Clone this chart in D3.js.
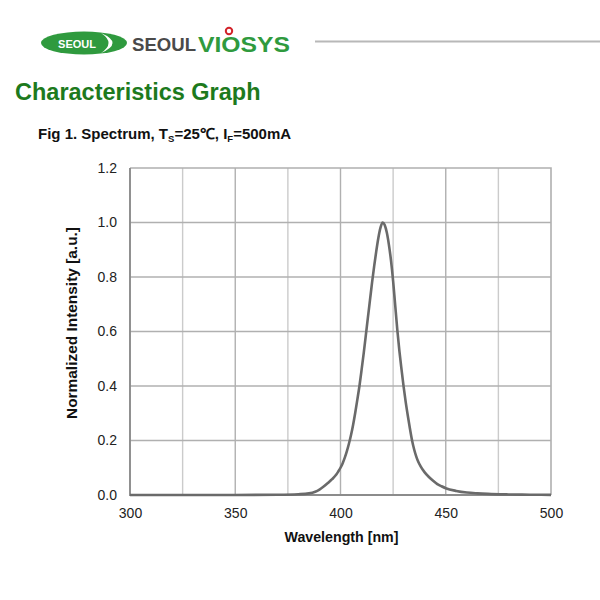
<!DOCTYPE html>
<html>
<head>
<meta charset="utf-8">
<script src="https://cdn.jsdelivr.net/npm/d3@7"></script>
<style>
  body { margin:0; background:#fff; }
  svg { font-family: "Liberation Sans", Arial, sans-serif; }
</style>
</head>
<body>
<div id="chart"></div>
<script>
// spectrum (wavelength nm / normalized intensity)
const wavelength = [300, 350, 370, 380, 385, 388, 390, 392, 394, 396, 398, 399, 400, 401, 402, 403, 404, 405, 406, 407, 408, 409, 410, 411, 412, 413, 414, 415, 416, 417, 418, 419, 420, 421, 422, 423, 424, 425, 426, 427, 428, 429, 430, 431, 432, 433, 434, 435, 436, 437, 438, 440, 442, 444, 446, 448, 450, 455, 460, 465, 470, 480, 490, 500];
const intensity  = [0.0, 0.0, 0.001, 0.003, 0.006, 0.012, 0.02, 0.031, 0.044, 0.058, 0.075, 0.087, 0.10, 0.116, 0.136, 0.16, 0.188, 0.22, 0.258, 0.302, 0.35, 0.40, 0.458, 0.519, 0.584, 0.65, 0.715, 0.78, 0.84, 0.895, 0.944, 0.981, 1.0, 0.991, 0.963, 0.918, 0.86, 0.785, 0.695, 0.605, 0.527, 0.46, 0.397, 0.34, 0.29, 0.243, 0.2, 0.167, 0.141, 0.121, 0.106, 0.083, 0.066, 0.052, 0.04, 0.032, 0.025, 0.015, 0.009, 0.006, 0.004, 0.002, 0.001, 0.0005];
const xTicks = [300, 350, 400, 450, 500];
const xGrid  = [325, 350, 375, 400, 425, 450, 475];
const yTicks = [0, 0.2, 0.4, 0.6, 0.8, 1.0, 1.2];

const W = 600, H = 600;
const svg = d3.select("#chart").append("svg")
  .attr("width", W).attr("height", H)
  .attr("viewBox", "0 0 " + W + " " + H);

// ---- header: logo + rule
const logo = svg.append("g");
logo.append("ellipse").attr("cx", 84).attr("cy", 43).attr("rx", 43).attr("ry", 11.5).attr("fill", "#2f9a3e");
logo.append("path")
  .attr("d", "M 101 33 Q 124 43 101 53 Q 116 43 101 33 Z")
  .attr("fill", "#fff");
logo.append("text").attr("x", 77).attr("y", 47.5).attr("text-anchor", "middle")
  .attr("fill", "#fff").attr("font-size", 11).attr("font-weight", "bold")
  .text("SEOUL");
logo.append("text").attr("x", 132).attr("y", 51)
  .attr("font-size", 19).attr("font-weight", "bold").attr("fill", "#4a4a4a")
  .attr("textLength", 64).attr("lengthAdjust", "spacingAndGlyphs")
  .text("SEOUL");
logo.append("text").attr("x", 198).attr("y", 52)
  .attr("font-size", 22).attr("font-weight", "bold").attr("fill", "#2f9a3e")
  .attr("textLength", 92).attr("lengthAdjust", "spacingAndGlyphs")
  .text("VIOSYS");
logo.append("circle").attr("cx", 229).attr("cy", 31).attr("r", 3.2)
  .attr("fill", "#fff").attr("stroke", "#d2232a").attr("stroke-width", 2);
svg.append("line").attr("x1", 315).attr("x2", 600).attr("y1", 41.5).attr("y2", 41.5)
  .attr("stroke", "#b8b8b8").attr("stroke-width", 2);

svg.append("text").attr("x", 15).attr("y", 100)
  .attr("font-size", 23.5).attr("font-weight", "bold").attr("fill", "#1d7a1d")
  .text("Characteristics Graph");

const fig = svg.append("text").attr("x", 38).attr("y", 139)
  .attr("font-size", 15).attr("font-weight", "bold").attr("fill", "#111");
fig.append("tspan").text("Fig 1. Spectrum, T");
fig.append("tspan").attr("font-size", 9.5).attr("dy", 3).text("S");
fig.append("tspan").attr("dy", -3).text("=25\u2103, I");
fig.append("tspan").attr("font-size", 9.5).attr("dy", 3).text("F");
fig.append("tspan").attr("dy", -3).text("=500mA");

// ---- plot
const plot = {x1: 130, x2: 551, y1: 168, y2: 495};
const x = d3.scaleLinear().domain([300, 500]).range([plot.x1, plot.x2]);
const y = d3.scaleLinear().domain([0, 1.2]).range([plot.y2, plot.y1]);

const grid = svg.append("g");
grid.selectAll(".vg").data(xGrid).join("line")
  .attr("x1", d => x(d)).attr("x2", d => x(d))
  .attr("y1", plot.y1).attr("y2", plot.y2)
  .attr("stroke", d => d % 50 === 0 ? "#b0b0b0" : "#cbcbcb").attr("stroke-width", 1.4);
grid.selectAll(".hg").data(yTicks.slice(1, -1)).join("line")
  .attr("x1", plot.x1).attr("x2", plot.x2)
  .attr("y1", d => y(d)).attr("y2", d => y(d))
  .attr("stroke", "#b0b0b0").attr("stroke-width", 1.4);

// frame: light top/right, darker left/bottom
svg.append("path")
  .attr("d", "M " + plot.x1 + " " + plot.y1 + " L " + plot.x2 + " " + plot.y1 + " L " + plot.x2 + " " + plot.y2)
  .attr("fill", "none").attr("stroke", "#b0b0b0").attr("stroke-width", 1.6);
svg.append("path")
  .attr("d", "M " + plot.x1 + " " + plot.y1 + " L " + plot.x1 + " " + plot.y2 + " L " + plot.x2 + " " + plot.y2)
  .attr("fill", "none").attr("stroke", "#8c8c8c").attr("stroke-width", 1.9);

// tick labels
const xAxis = d3.axisBottom(x).tickValues(xTicks).tickSize(0).tickPadding(13).tickFormat(d3.format("d"));
svg.append("g").attr("transform", "translate(0," + plot.y2 + ")").call(xAxis)
  .call(g => g.select(".domain").remove())
  .selectAll("text").attr("font-size", 14).attr("fill", "#222")
  .attr("font-family", "'Liberation Sans', Arial, sans-serif");

const yAxis = d3.axisLeft(y).tickValues(yTicks).tickSize(0).tickPadding(13).tickFormat(d3.format(".1f"));
svg.append("g").attr("transform", "translate(" + plot.x1 + ",0)").call(yAxis)
  .call(g => g.select(".domain").remove())
  .selectAll("text").attr("font-size", 14).attr("fill", "#222")
  .attr("font-family", "'Liberation Sans', Arial, sans-serif");

// axis titles
svg.append("text").attr("x", 341.5).attr("y", 542).attr("text-anchor", "middle")
  .attr("font-size", 14).attr("font-weight", "bold").attr("fill", "#111")
  .attr("textLength", 114).attr("lengthAdjust", "spacingAndGlyphs")
  .text("Wavelength [nm]");
svg.append("text")
  .attr("transform", "translate(77,323) rotate(-90)")
  .attr("text-anchor", "middle")
  .attr("font-size", 14).attr("font-weight", "bold").attr("fill", "#111")
  .attr("textLength", 192).attr("lengthAdjust", "spacingAndGlyphs")
  .text("Normalized Intensity [a.u.]");

// spectrum line
const line = d3.line().x(d => x(d[0])).y(d => y(d[1])).curve(d3.curveMonotoneX);
svg.append("path")
  .datum(wavelength.map((w, i) => [w, intensity[i]]))
  .attr("d", line)
  .attr("fill", "none").attr("stroke", "#6a6a6a").attr("stroke-width", 2.6)
  .attr("stroke-linejoin", "round");
</script>
</body>
</html>
